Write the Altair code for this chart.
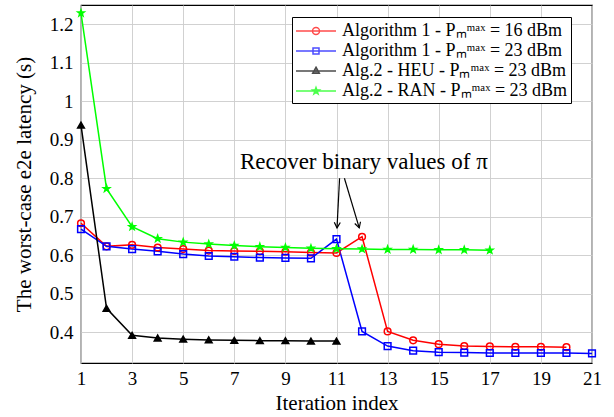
import altair as alt
import pandas as pd

series_names = [
    "Algorithm 1 - Pₘᵐᵃˣ = 16 dBm",
    "Algorithm 1 - Pₘᵐᵃˣ = 23 dBm",
    "Alg.2 - HEU - Pₘᵐᵃˣ = 23 dBm",
    "Alg.2 - RAN - Pₘᵐᵃˣ = 23 dBm",
]
colors = ["#ff0000", "#0000ff", "#000000", "#00ff00"]
fills = ["transparent", "transparent", "#000000", "#00ff00"]

red = [0.683, 0.623, 0.627, 0.620, 0.616, 0.612, 0.611, 0.610, 0.609, 0.607,
       0.606, 0.648, 0.402, 0.379, 0.369, 0.364, 0.363, 0.362, 0.362, 0.361]
blue = [0.668, 0.623, 0.616, 0.610, 0.603, 0.598, 0.596, 0.594, 0.593, 0.592,
        0.642, 0.402, 0.364, 0.352, 0.348, 0.347, 0.346, 0.346, 0.346, 0.346, 0.345]
black = [0.938, 0.462, 0.392, 0.385, 0.382, 0.380, 0.379, 0.378, 0.378, 0.377, 0.377]
green = [1.229, 0.773, 0.674, 0.643, 0.634, 0.629, 0.625, 0.622, 0.620, 0.618,
         0.617, 0.616, 0.615, 0.615, 0.614, 0.614, 0.613]

x_ticks = [1, 3, 5, 7, 9, 11, 13, 15, 17, 19, 21]
y_ticks = [0.4, 0.5, 0.6, 0.7, 0.8, 0.9, 1.0, 1.1, 1.2]

annot_text = "Recover binary values of π"
annot_pos = [12.07, 0.842]
arrow_x = [11.12, 11.31]
arrow_y = [0.800, 0.800]
arrow_x2 = [11.02, 11.89]
arrow_y2 = [0.671, 0.671]
arrow_angle = [3, 343]

rows = []
for name, vals in zip(series_names, [red, blue, black, green]):
    for i, v in enumerate(vals):
        rows.append({"it": i + 1, "lat": v, "series": name})
df = pd.DataFrame(rows)

arrows = pd.DataFrame({"x": arrow_x, "y": arrow_y, "x2": arrow_x2,
                       "y2": arrow_y2, "angle": arrow_angle})
annot = pd.DataFrame({"x": [annot_pos[0]], "y": [annot_pos[1]], "t": [annot_text]})

FONT = "Liberation Serif"

xs = alt.Scale(domain=[1, 21], nice=False, zero=False)
ys = alt.Scale(domain=[0.32, 1.25], nice=False, zero=False)
cs = alt.Scale(domain=series_names, range=colors)
fs = alt.Scale(domain=series_names, range=fills)

X = alt.X("it:Q", scale=xs, title="Iteration index",
          axis=alt.Axis(values=x_ticks, format="d", tickSize=0, labelPadding=6,
                        labelFlush=False, labelFont=FONT, titleFont=FONT,
                        titlePadding=4, domain=False, gridColor="#cccccc", gridWidth=0.9))
Y = alt.Y("lat:Q", scale=ys, title="The worst-case e2e latency (s)",
          axis=alt.Axis(values=y_ticks, format="~g", tickSize=0, labelPadding=8,
                        labelFlush=False, labelFont=FONT, titleFont=FONT,
                        titlePadding=15, domain=False, gridColor="#cccccc", gridWidth=0.9))

lines = alt.Chart(df).mark_line(strokeWidth=1.5).encode(
    x=X, y=Y,
    color=alt.Color("series:N", scale=cs, legend=None),
    detail="series:N",
)

star = ("M0,-1L0.235,-0.324L0.951,-0.309L0.38,0.124L0.588,0.809L0,0.4"
        "L-0.588,0.809L-0.38,0.124L-0.951,-0.309L-0.235,-0.324Z")
pts = alt.Chart(df).mark_point(filled=False, size=45, strokeWidth=1.5, opacity=1).encode(
    x=alt.X("it:Q", scale=xs), y=alt.Y("lat:Q", scale=ys),
    color=alt.Color("series:N", scale=cs, legend=None),
    fill=alt.Fill("series:N", scale=fs, legend=None),
    shape=alt.Shape("series:N", scale=alt.Scale(domain=series_names,
                    range=["circle", "square", "triangle-up", star]), legend=None),
)

leg_circle = "M-1,0L3,0M1.35,0A0.35,0.35,0,1,1,0.65,0A0.35,0.35,0,1,1,1.35,0Z"
leg_square = "M-1,0L3,0M0.7,-0.3L1.3,-0.3L1.3,0.3L0.7,0.3Z"
leg_tri = "M-1,0L3,0M1,-0.38L1.33,0.22L0.67,0.22Z"
leg_star = ("M-1,0L3,0M1,-0.35L1.082,-0.113L1.333,-0.108L1.133,0.043L1.206,0.283"
            "L1,0.14L0.794,0.283L0.867,0.043L0.667,-0.108L0.918,-0.113Z")
leg = alt.Legend(title=None, orient="none", legendX=211, legendY=12,
                 strokeColor="#000000", fillColor="#ffffff", padding=3,
                 rowPadding=0, symbolSize=400, symbolStrokeWidth=1.5,
                 labelOffset=25, labelFont=FONT, labelFontSize=18,
                 labelColor="#000000", cornerRadius=0, labelLimit=400)
legend_layer = alt.Chart(df).transform_filter("false").mark_point(
    filled=False, strokeWidth=1.5).encode(
    x=alt.X("it:Q", scale=xs), y=alt.Y("lat:Q", scale=ys),
    color=alt.Color("series:N", scale=cs, legend=leg),
    fill=alt.Fill("series:N", scale=fs, legend=leg),
    shape=alt.Shape("series:N", scale=alt.Scale(domain=series_names,
                    range=[leg_circle, leg_square, leg_tri, leg_star]), legend=leg),
)

arrow_lines = alt.Chart(arrows).mark_rule(color="#000000", strokeWidth=1.2).encode(
    x=alt.X("x:Q", scale=xs), y=alt.Y("y:Q", scale=ys),
    x2="x2:Q", y2="y2:Q",
)
arrow_heads = alt.Chart(arrows).mark_point(
    shape="M-0.6,-1.1L0,0L0.6,-1.1", filled=False, size=100,
    color="#000000", strokeWidth=1.2, opacity=1).encode(
    x=alt.X("x2:Q", scale=xs), y=alt.Y("y2:Q", scale=ys),
    angle=alt.Angle("angle:Q", scale=None),
)
annot_txt = alt.Chart(annot).mark_text(font=FONT, fontSize=23, color="#000000").encode(
    x=alt.X("x:Q", scale=xs), y=alt.Y("y:Q", scale=ys), text="t:N",
)

chart = alt.layer(lines, pts, arrow_lines, arrow_heads, annot_txt, legend_layer).resolve_scale(
    shape="independent"
).resolve_legend(color="independent", fill="independent", shape="independent").properties(
    width=511, height=358,
    padding={"left": 81, "top": 5, "right": 22, "bottom": 54},
    autosize=alt.AutoSizeParams(type="none"),
).configure(font=FONT).configure_view(stroke="#000000", strokeWidth=1.2).configure_axis(
    labelFontSize=19, titleFontSize=21,
    labelColor="#000000", titleColor="#000000", titleFontWeight="normal",
)

chart.save("out.html", embed_options={"renderer": "svg", "actions": False})
